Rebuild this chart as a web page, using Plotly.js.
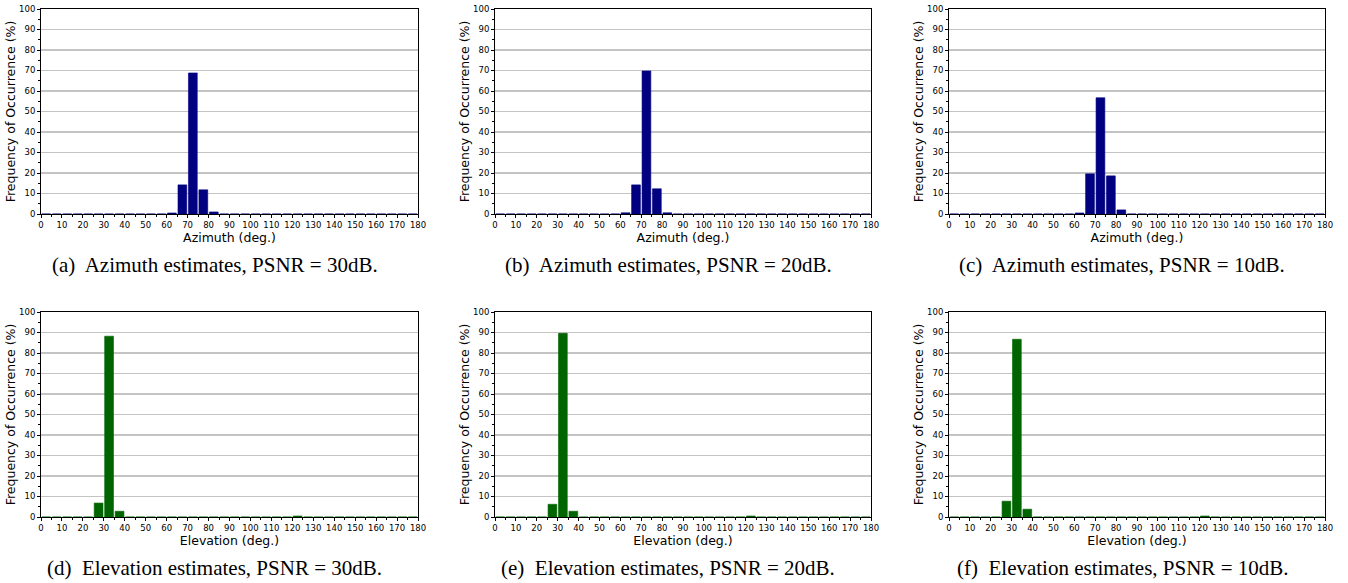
<!DOCTYPE html>
<html>
<head>
<meta charset="utf-8">
<script src="https://cdn.plot.ly/plotly-3.0.1.min.js"></script>
<style>html,body{margin:0;padding:0;background:#fff;}#chart{width:1348px;height:583px;}</style>
</head>
<body>
<div id="chart"></div>
<script>
// Bin centres (deg.), 5-degree bins from 0 to 180
const binCenters = [2.5, 7.5, 12.5, 17.5, 22.5, 27.5, 32.5, 37.5, 42.5, 47.5, 52.5, 57.5,
  62.5, 67.5, 72.5, 77.5, 82.5, 87.5, 92.5, 97.5, 102.5, 107.5, 112.5, 117.5,
  122.5, 127.5, 132.5, 137.5, 142.5, 147.5, 152.5, 157.5, 162.5, 167.5, 172.5, 177.5];

// Frequency of occurrence (%)
const azimuth30dB = [0,0,0,0,0,0,0,0,0,0,0,0, 0.5,14.2,68.8,11.8,1.0,0, 0,0,0,0,0,0, 0,0,0,0,0,0, 0,0,0,0,0,0];
const azimuth20dB = [0,0,0,0,0,0,0,0,0,0,0,0, 0.6,14.2,69.8,12.3,0.6,0, 0,0,0,0,0,0, 0,0,0,0,0,0, 0,0,0,0,0,0];
const azimuth10dB = [0,0,0,0,0,0,0,0,0,0,0,0, 0.5,19.6,56.7,18.6,2.0,0, 0,0,0,0,0,0, 0,0,0,0,0,0, 0,0,0,0,0,0];
const elevation30dB = [0,0,0,0,0,6.8,88.2,2.8,0,0,0,0, 0,0,0,0,0,0, 0,0,0,0,0,0, 0.5,0,0,0,0,0, 0,0,0,0,0,0];
const elevation20dB = [0,0,0,0,0,6.2,89.6,2.8,0,0,0,0, 0,0,0,0,0,0, 0,0,0,0,0,0, 0.5,0,0,0,0,0, 0,0,0,0,0,0];
const elevation10dB = [0,0,0,0,0,7.7,86.7,3.8,0,0,0,0, 0,0,0,0,0,0, 0,0,0,0,0,0, 0.5,0,0,0,0,0, 0,0,0,0,0,0];

const xTickVals = [0,10,20,30,40,50,60,70,80,90,100,110,120,130,140,150,160,170,180];
const yTickVals = [0,10,20,30,40,50,60,70,80,90,100];

const captions = [
  "(a)  Azimuth estimates, PSNR = 30dB.",
  "(b)  Azimuth estimates, PSNR = 20dB.",
  "(c)  Azimuth estimates, PSNR = 10dB.",
  "(d)  Elevation estimates, PSNR = 30dB.",
  "(e)  Elevation estimates, PSNR = 20dB.",
  "(f)  Elevation estimates, PSNR = 10dB."
];
const xTitles = ["Azimuth (deg.)", "Elevation (deg.)"];
const yTitle = "Frequency of Occurrence (%)";

const seriesList = [azimuth30dB, azimuth20dB, azimuth10dB, elevation30dB, elevation20dB, elevation10dB];
const colors = ["#000080", "#006400"];

const W = 1348, H = 583;
const colPx = [[41, 418], [495, 871], [949, 1325]];
const rowPx = [[9, 214], [312, 517]];
const captionY = [265, 568];

const data = [];
const layout = {
  width: W, height: H,
  margin: {l: 0, r: 0, t: 0, b: 0},
  paper_bgcolor: "#fff", plot_bgcolor: "#fff",
  showlegend: false,
  bargap: 0,
  font: {family: "DejaVu Sans", color: "#000"},
  annotations: []
};

for (let i = 0; i < 6; i++) {
  const r = Math.floor(i / 3), c = i % 3;
  const sfx = i === 0 ? "" : String(i + 1);
  const color = colors[r];
  data.push({
    type: "bar",
    x: binCenters,
    y: seriesList[i],
    width: 4.2,
    marker: {color: color, line: {color: color, width: 0.6}},
    xaxis: "x" + sfx, yaxis: "y" + sfx,
    hoverinfo: "x+y"
  });
  const xd = [colPx[c][0] / W, colPx[c][1] / W];
  const yd = [(H - rowPx[r][1]) / H, (H - rowPx[r][0]) / H];
  layout["xaxis" + sfx] = {
    domain: xd, anchor: "y" + sfx, range: [0, 180],
    tickvals: xTickVals, ticktext: xTickVals.map(String),
    ticks: "outside", ticklen: 3, tickwidth: 1, tickcolor: "#000",
    minor: {tickvals: [5,15,25,35,45,55,65,75,85,95,105,115,125,135,145,155,165,175], ticks: "outside", ticklen: 2, tickwidth: 1, tickcolor: "#000"},
    showline: true, linecolor: "#000", linewidth: 1, mirror: true,
    showgrid: false, zeroline: false,
    tickfont: {family: "DejaVu Sans", size: 8.5, color: "#000"},
    title: {text: xTitles[r], font: {family: "DejaVu Sans", size: 12.5, color: "#000"}, standoff: 0},
    automargin: false, fixedrange: true
  };
  layout["yaxis" + sfx] = {
    domain: yd, anchor: "x" + sfx, range: [0, 100],
    tickvals: yTickVals, ticktext: yTickVals.map(String),
    ticks: "outside", ticklen: 3, tickwidth: 1, tickcolor: "#000",
    minor: {tickvals: [5,15,25,35,45,55,65,75,85,95], ticks: "outside", ticklen: 2, tickwidth: 1, tickcolor: "#000"},
    showline: true, linecolor: "#000", linewidth: 1, mirror: true,
    showgrid: true, gridcolor: "#c4c4c4", gridwidth: 1.3, zeroline: false,
    tickfont: {family: "DejaVu Sans", size: 8.5, color: "#000"},
    title: {text: yTitle, font: {family: "DejaVu Sans", size: 12.5, color: "#000"}, standoff: 0},
    automargin: false, fixedrange: true
  };
  layout.annotations.push({
    text: captions[i], showarrow: false,
    xref: "paper", yref: "paper",
    x: ((colPx[c][0] + colPx[c][1]) / 2 - 15) / W,
    y: (H - captionY[r]) / H,
    xanchor: "center", yanchor: "middle",
    font: {family: "Liberation Serif", size: 21, color: "#000"}
  });
}

Plotly.newPlot("chart", data, layout, {displayModeBar: false, staticPlot: true});
</script>
</body>
</html>
